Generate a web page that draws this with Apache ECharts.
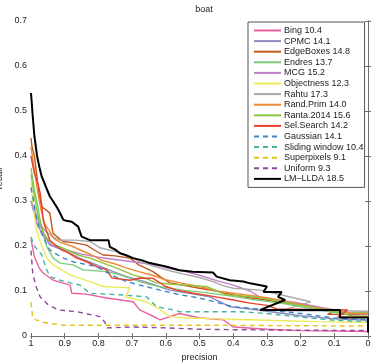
<!DOCTYPE html>
<html>
<head>
<meta charset="utf-8">
<script src="https://cdn.jsdelivr.net/npm/echarts@6/dist/echarts.min.js"></script>
<style>
html, body { margin: 0; padding: 0; background: #fff; }
#chart { width: 374px; height: 362px; }
</style>
</head>
<body>
<div id="chart"></div>
<script>
// precision / recall points, [precision, recall]
var bing = [[1,0.215],[0.99,0.176],[0.975,0.15],[0.964,0.14],[0.934,0.124],[0.884,0.113],[0.879,0.095],[0.835,0.093],[0.78,0.085],[0.697,0.076],[0.677,0.058],[0.627,0.04],[0.617,0.036],[0.56,0.05],[0.498,0.04],[0.43,0.036],[0.4,0.02],[0.3,0.015],[0.2,0.012],[0,0.01]];
var cpmc = [[1,0.30],[0.99,0.28],[0.98,0.26],[0.965,0.23],[0.944,0.202],[0.905,0.191],[0.855,0.173],[0.805,0.158],[0.756,0.143],[0.716,0.132],[0.66,0.12],[0.62,0.11],[0.588,0.102],[0.53,0.095],[0.469,0.087],[0.41,0.065],[0.35,0.06],[0.3,0.055],[0.2,0.045],[0.1,0.038],[0,0.035]];
var edgeBoxes = [[1,0.44],[0.997,0.42],[0.99,0.40],[0.985,0.37],[0.98,0.34],[0.975,0.31],[0.968,0.287],[0.955,0.28],[0.944,0.273],[0.935,0.229],[0.925,0.222],[0.905,0.21],[0.87,0.207],[0.835,0.202],[0.81,0.19],[0.786,0.18],[0.75,0.178],[0.706,0.173],[0.68,0.158],[0.638,0.143],[0.617,0.132],[0.588,0.118],[0.55,0.113],[0.5,0.106],[0.45,0.1],[0.40,0.091],[0.35,0.085],[0.3,0.08],[0.25,0.074],[0.2,0.07],[0.15,0.062],[0.1,0.055],[0.12,0.048],[0,0.048]];
var endres = [[1,0.373],[0.995,0.35],[0.99,0.324],[0.98,0.29],[0.973,0.258],[0.963,0.225],[0.953,0.198],[0.934,0.173],[0.914,0.162],[0.875,0.158],[0.845,0.147],[0.775,0.143],[0.736,0.136],[0.677,0.121],[0.64,0.113],[0.6,0.108],[0.55,0.102],[0.5,0.098],[0.45,0.093],[0.4,0.088],[0.35,0.082],[0.3,0.077],[0.25,0.072],[0.2,0.065],[0.15,0.058],[0.1,0.052],[0,0.052]];
var mcg = [[1,0.30],[0.99,0.27],[0.98,0.245],[0.965,0.225],[0.944,0.205],[0.92,0.196],[0.89,0.19],[0.85,0.182],[0.8,0.175],[0.75,0.17],[0.7,0.165],[0.647,0.16],[0.6,0.152],[0.55,0.145],[0.5,0.135],[0.449,0.123],[0.4,0.113],[0.35,0.1],[0.32,0.086],[0.28,0.08],[0.22,0.075],[0.15,0.065],[0.1,0.058],[0.05,0.05],[0,0.048]];
var objectness = [[1,0.34],[0.995,0.3],[0.99,0.27],[0.985,0.24],[0.973,0.21],[0.953,0.173],[0.934,0.158],[0.884,0.136],[0.825,0.121],[0.786,0.11],[0.706,0.107],[0.72,0.087],[0.657,0.076],[0.62,0.06],[0.588,0.043],[0.528,0.04],[0.45,0.038],[0.35,0.036],[0.25,0.034],[0.15,0.032],[0,0.03]];
var rahtu = [[1,0.30],[0.99,0.28],[0.98,0.26],[0.97,0.245],[0.955,0.232],[0.935,0.22],[0.914,0.213],[0.87,0.213],[0.825,0.21],[0.795,0.196],[0.746,0.187],[0.71,0.178],[0.677,0.165],[0.617,0.151],[0.588,0.145],[0.55,0.138],[0.5,0.13],[0.46,0.121],[0.43,0.112],[0.40,0.106],[0.32,0.102],[0.25,0.09],[0.17,0.076],[0.26,0.056],[0.1,0.056],[0,0.055]];
var randPrim = [[1,0.42],[0.99,0.37],[0.98,0.32],[0.97,0.28],[0.96,0.25],[0.944,0.232],[0.93,0.215],[0.91,0.207],[0.88,0.2],[0.85,0.19],[0.82,0.18],[0.79,0.168],[0.75,0.16],[0.72,0.152],[0.68,0.143],[0.64,0.135],[0.6,0.125],[0.55,0.117],[0.5,0.11],[0.45,0.1],[0.4,0.095],[0.35,0.09],[0.3,0.085],[0.25,0.078],[0.2,0.07],[0.15,0.063],[0.1,0.058],[0.05,0.05],[0,0.05]];
var ranta = [[1,0.36],[0.99,0.31],[0.98,0.27],[0.97,0.245],[0.96,0.225],[0.945,0.21],[0.92,0.2],[0.89,0.19],[0.86,0.18],[0.825,0.173],[0.79,0.163],[0.746,0.151],[0.697,0.136],[0.66,0.128],[0.627,0.118],[0.58,0.115],[0.52,0.112],[0.479,0.11],[0.42,0.091],[0.34,0.087],[0.3,0.082],[0.25,0.075],[0.2,0.068],[0.15,0.062],[0.1,0.055],[0.05,0.045],[0,0.044]];
var selSearch = [[1,0.40],[0.995,0.38],[0.99,0.362],[0.98,0.34],[0.973,0.318],[0.968,0.29],[0.964,0.258],[0.955,0.235],[0.944,0.213],[0.925,0.2],[0.909,0.191],[0.894,0.187],[0.864,0.173],[0.835,0.165],[0.805,0.154],[0.775,0.147],[0.76,0.129],[0.706,0.124],[0.677,0.129],[0.638,0.128],[0.6,0.11],[0.568,0.102],[0.518,0.095],[0.46,0.088],[0.40,0.08],[0.35,0.073],[0.3,0.068],[0.27,0.06],[0.06,0.058],[0.09,0.042],[0,0.042]];
var gaussian = [[1,0.33],[0.995,0.31],[0.99,0.29],[0.985,0.265],[0.975,0.24],[0.964,0.22],[0.944,0.191],[0.91,0.175],[0.875,0.165],[0.805,0.154],[0.76,0.135],[0.716,0.121],[0.677,0.113],[0.617,0.102],[0.56,0.092],[0.498,0.084],[0.45,0.075],[0.40,0.065],[0.3,0.058],[0.2,0.05],[0.1,0.04],[0,0.036]];
var slidingWindow = [[1,0.22],[0.99,0.2],[0.968,0.18],[0.955,0.15],[0.944,0.132],[0.914,0.124],[0.855,0.113],[0.825,0.095],[0.727,0.091],[0.657,0.087],[0.627,0.065],[0.578,0.058],[0.558,0.054],[0.38,0.054],[0.3,0.05],[0.2,0.042],[0.1,0.035],[0,0.032]];
var superpixels = [[1,0.075],[0.995,0.04],[0.985,0.036],[0.96,0.03],[0.905,0.024],[0.5,0.024],[0,0.022]];
var uniform = [[1,0.19],[0.995,0.14],[0.985,0.11],[0.973,0.087],[0.95,0.07],[0.92,0.058],[0.864,0.054],[0.795,0.043],[0.78,0.03],[0.775,0.018],[0.7,0.02],[0.6,0.018],[0.5,0.015],[0.4,0.014],[0.2,0.013],[0,0.012]];
var lmLlda = [[1,0.54],[0.995,0.49],[0.99,0.445],[0.982,0.40],[0.975,0.375],[0.968,0.354],[0.955,0.33],[0.944,0.31],[0.935,0.30],[0.924,0.287],[0.915,0.275],[0.904,0.258],[0.895,0.256],[0.879,0.254],[0.86,0.243],[0.855,0.232],[0.85,0.221],[0.825,0.213],[0.77,0.213],[0.766,0.198],[0.75,0.192],[0.736,0.184],[0.72,0.18],[0.697,0.173],[0.67,0.168],[0.647,0.162],[0.62,0.158],[0.597,0.154],[0.56,0.146],[0.52,0.143],[0.46,0.141],[0.449,0.132],[0.41,0.124],[0.37,0.121],[0.35,0.117],[0.30,0.11],[0.31,0.098],[0.256,0.098],[0.267,0.087],[0.246,0.08],[0.32,0.058],[0.083,0.058],[0.083,0.041],[0,0.041],[0,0.008]];

var names = ['Bing 10.4','CPMC 14.1','EdgeBoxes 14.8','Endres 13.7','MCG 15.2','Objectness 12.3','Rahtu 17.3','Rand.Prim 14.0','Ranta.2014 15.6','Sel.Search 14.2','Gaussian 14.1','Sliding window 10.4','Superpixels 9.1','Uniform 9.3','LM\u2013LLDA 18.5'];
var curves = [bing, cpmc, edgeBoxes, endres, mcg, objectness, rahtu, randPrim, ranta, selSearch, gaussian, slidingWindow, superpixels, uniform, lmLlda];
var colors = ['#e8609f','#8e8ac3','#c0561e','#7ccb7c','#c17fcb','#ebeb5a','#a8a8a8','#ef8a32','#8cc63f','#e8412b','#3d85c6','#45b5a2','#e3c21b','#8b4c9a','#000000'];

var font = 'Liberation Sans, Arial, sans-serif';
var axisCol = '#6e6e6e';

var series = [];
for (var i = 0; i < curves.length; i++) {
	var dashed = i >= 10 && i <= 13;
	series.push({
		name: names[i],
		type: 'line',
		data: curves[i],
		symbol: 'none',
		animation: false,
		silent: true,
		lineStyle: {
			color: colors[i],
			width: i == 14 ? 2 : 1.4,
			type: dashed ? [5, 4] : 'solid'
		},
		itemStyle: { color: colors[i] }
	});
}

function tickFmt(v) {
	v = Math.round(v * 10) / 10;
	if (v === 0 || v === 1) return String(v);
	return v.toFixed(1);
}

var boxAxis = {
	axisLine: { show: true, lineStyle: { color: axisCol, width: 1 } },
	axisTick: { show: true, inside: true, length: 3, lineStyle: { color: axisCol } },
	axisLabel: { show: false },
	splitLine: { show: false }
};

var myChart = echarts.init(document.getElementById('chart'), null, { renderer: 'canvas' });
var option = {
	backgroundColor: '#fff',
	animation: false,
	title: {
		text: 'boat',
		left: 199, top: 0,
		textAlign: 'center',
		textStyle: { fontFamily: font, fontSize: 9, fontWeight: 'normal', color: '#222' }
	},
	grid: { left: 31, right: 6, top: 21, bottom: 26, containLabel: false, outerBoundsMode: 'none' },
	legend: {
		orient: 'vertical',
		left: 248, top: 22,
		data: names,
		backgroundColor: '#fff',
		borderColor: '#555',
		borderWidth: 1,
		borderRadius: 0,
		padding: [4, 1, 4, 5],
		itemWidth: 27,
		itemHeight: 8,
		itemGap: 1.6,
		selectedMode: false,
		itemStyle: { color: 'rgba(0,0,0,0)', borderColor: 'rgba(0,0,0,0)', borderWidth: 0 },
		textStyle: { fontFamily: font, fontSize: 9, lineHeight: 9, color: '#222', padding: [0, 0, 0, -2] }
	},
	xAxis: [
		{
			type: 'value', inverse: true, min: 0, max: 1, interval: 0.1,
			position: 'bottom',
			name: 'precision', nameLocation: 'middle', nameGap: 15,
			nameTextStyle: { fontFamily: font, fontSize: 9, color: '#222' },
			axisLine: { show: true, lineStyle: { color: axisCol, width: 1 } },
			axisTick: { show: true, inside: true, length: 3, lineStyle: { color: axisCol } },
			axisLabel: { fontFamily: font, fontSize: 9, color: '#222', margin: 3, formatter: tickFmt },
			splitLine: { show: false }
		},
		Object.assign({ type: 'value', inverse: true, min: 0, max: 1, interval: 0.1, position: 'top' }, boxAxis)
	],
	yAxis: [
		{
			type: 'value', min: 0, max: 0.7, interval: 0.1,
			position: 'left',
			name: 'recall', nameLocation: 'middle', nameGap: 25,
			nameTextStyle: { fontFamily: font, fontSize: 9, color: '#222' },
			axisLine: { show: true, lineStyle: { color: axisCol, width: 1 } },
			axisTick: { show: true, inside: true, length: 3, lineStyle: { color: axisCol } },
			axisLabel: { fontFamily: font, fontSize: 9, color: '#222', margin: 4, formatter: tickFmt },
			splitLine: { show: false }
		},
		Object.assign({ type: 'value', min: 0, max: 0.7, interval: 0.1, position: 'right' }, boxAxis)
	],
	series: series
};
myChart.setOption(option);
</script>
</body>
</html>
